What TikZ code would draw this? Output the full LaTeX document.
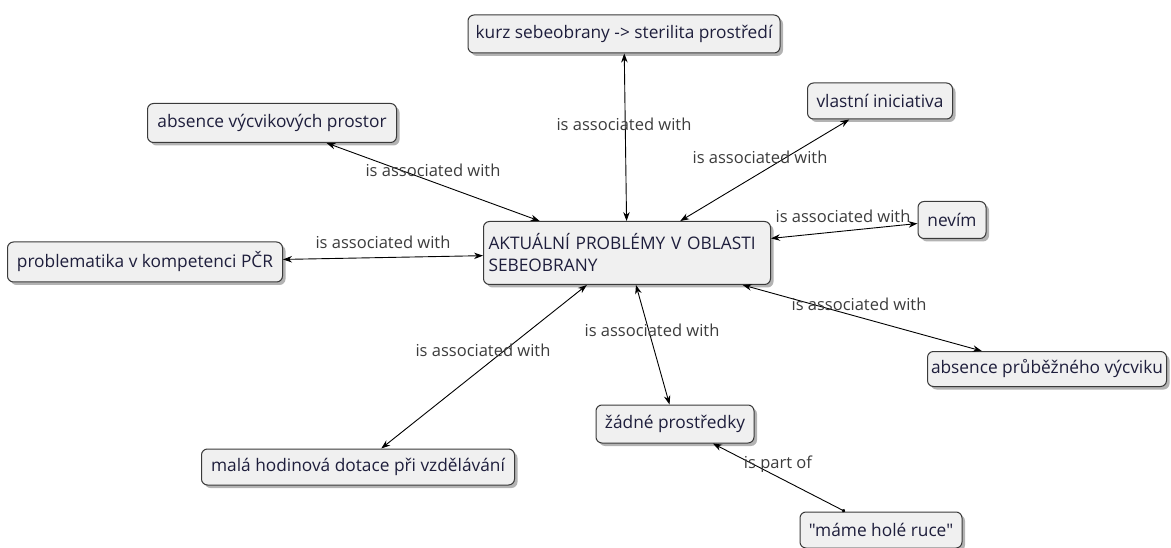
\documentclass[tikz,border=0pt]{standalone}
\usepackage{fontspec}
\setmainfont{Open Sans}
\newfontfamily\rawopen{Open Sans}
\usetikzlibrary{shadows,arrows.meta}
\definecolor{boxtext}{HTML}{1E1E3C}
\definecolor{boxfill}{HTML}{F0F0F0}
\definecolor{boxline}{HTML}{3A3A3A}
\definecolor{lbl}{HTML}{3C3C3C}
\tikzset{
  concept/.style={rectangle, rounded corners=6pt, draw=boxline, line width=1pt,
    fill=boxfill, text=boxtext, font=\fontsize{17.3}{22}\selectfont,
    drop shadow={shadow xshift=3pt, shadow yshift=-3pt, opacity=0.6},
    inner sep=0pt, anchor=center},
  link/.style={line width=0.9pt, black, {Stealth[length=9pt,width=6.5pt]}-{Stealth[length=9pt,width=6.5pt]}},
  partlink/.style={line width=0.9pt, black, {Circle[length=3.5pt]}-{Stealth[length=9pt,width=6.5pt]}},
  lab/.style={text=lbl, font=\fontsize{16.5}{20}\selectfont, inner sep=0pt}
}
\begin{document}
\begin{tikzpicture}[x=1pt,y=-1pt]
\useasboundingbox (0,0) rectangle (1171,548);
\node[concept, minimum width=312pt, minimum height=38pt] (kurz) at (624,34) {kurz sebeobrany -> sterilita prostředí};
\node[concept, minimum width=145pt, minimum height=36pt] (vlastni) at (880,101) {vlastní iniciativa};
\node[concept, minimum width=249pt, minimum height=39pt] (vycvik) at (272,123) {absence výcvikových prostor};
\node[concept, minimum width=68pt, minimum height=37pt] (nevim) at (952,220) {nevím};
\node[concept, minimum width=287pt, minimum height=63pt, text width=277pt, align=left] (center) at (627,253) {AKTUÁLNÍ PROBLÉMY V OBLASTI\\SEBEOBRANY};
\node[concept, minimum width=275pt, minimum height=40pt] (pcr) at (145,262) {problematika v kompetenci PČR};
\node[concept, minimum width=239pt, minimum height=35pt] (prubezny) at (1047,369) {absence průběžného výcviku};
\node[concept, minimum width=158pt, minimum height=38pt] (zadne) at (675,424) {žádné prostředky};
\node[concept, minimum width=313pt, minimum height=36pt] (mala) at (358,467) {malá hodinová dotace při vzdělávání};
\node[concept, minimum width=162pt, minimum height=36pt] (mame) at (881,530) {\rawopen "máme holé ruce"};

\draw[link] (kurz) -- (center);
\draw[link] (vlastni) -- (center);
\draw[link] (vycvik) -- (center);
\draw[link] (nevim) -- (center);
\draw[link] (pcr) -- (center);
\draw[link] (prubezny) -- (center);
\draw[link] (zadne) -- (center);
\draw[link] (mala) -- (center);
\draw[partlink] (mame) -- (zadne);

\node[lab] (l1) at (624,124) {is associated with};
\node[lab] (l2) at (760,157) {is associated with};
\node[lab] (l3) at (433,170) {is associated with};
\node[lab] (l4) at (843,216) {is associated with};
\node[lab] (l5) at (383,242) {is associated with};
\node[lab] (l6) at (859,304) {is associated with};
\node[lab] (l7) at (652,330) {is associated with};
\node[lab] (l8) at (483,350) {is associated with};
\node[lab] (l9) at (778,464) {is part of};
\end{tikzpicture}
\end{document}
